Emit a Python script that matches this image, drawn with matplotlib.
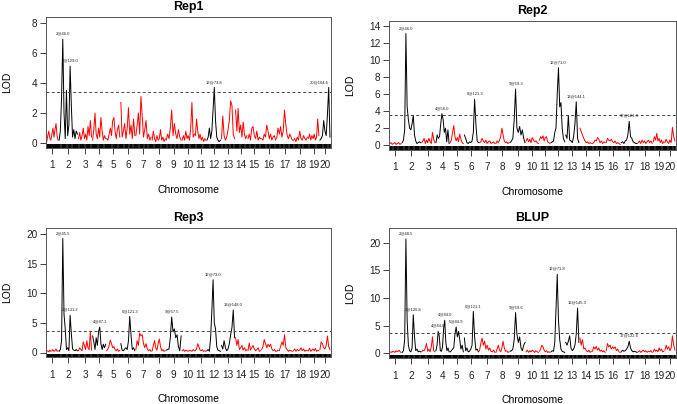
import matplotlib.pyplot as plt
import numpy as np

plt.rcParams['font.family'] = ['Liberation Sans', 'DejaVu Sans']

# chromosome map (cM)
chroms = [str(i) for i in range(1, 21)]
chrom_len = [130, 210, 150, 150, 150, 160, 175, 150, 170, 140,
             120, 155, 150, 130, 145, 160, 180, 160, 120, 115]
gap = 12

# LOD profiles, one list per chromosome
rep1 = [
    [0.1, 0.5, 0.8, 0.3, 0.2, 0.6, 1.0, 0.4, 0.9, 1.3, 0.5, 0.2],
    [0.2, 0.8, 3.0, 6.9, 2.0, 0.3, 3.5, 0.5, 1.2, 5.1, 2.5, 0.4, 0.9, 0.3, 0.8, 0.6],
    [0.3, 0.7, 0.2, 0.5, 1.0, 0.3, 0.6, 0.2, 1.1, 0.5, 1.5, 0.4],
    [0.2, 0.9, 2.0, 0.6, 0.3, 1.0, 0.4, 1.7, 0.8, 0.2, 0.5, 0.3],
    [0.3, 0.2, 0.6, 1.0, 0.5, 1.5, 1.7, 0.8, 0.3, 0.9, 1.2, 0.4],
    [2.7, 0.4, 0.8, 1.3, 0.3, 1.0, 2.35, 0.6, 1.2, 0.3, 1.6, 0.5],
    [0.5, 1.2, 2.0, 0.6, 3.1, 1.8, 0.4, 0.9, 1.5, 0.3, 0.6, 0.2, 0.4],
    [0.2, 0.8, 0.3, 0.1, 0.5, 0.2, 0.3, 0.9, 0.2, 0.4, 0.1, 0.3],
    [0.2, 0.6, 0.3, 1.0, 2.2, 0.5, 1.3, 0.6, 0.3, 0.9, 0.4, 0.2],
    [0.2, 0.5, 0.2, 0.8, 0.3, 0.5, 0.2, 1.0, 2.7, 0.4, 0.6],
    [0.5, 1.6, 0.8, 0.3, 0.6, 0.2, 0.4, 0.1, 0.3, 0.2],
    [0.2, 0.4, 1.0, 0.3, 0.8, 2.2, 3.7, 1.5, 0.4, 0.2, 0.1, 0.2],
    [0.3, 1.8, 0.5, 0.2, 0.4, 0.9, 1.5, 2.8, 2.5, 0.6, 0.3],
    [2.2, 0.8, 2.3, 0.7, 1.2, 0.4, 1.4, 0.6, 0.3, 0.5],
    [0.3, 0.6, 0.2, 1.0, 1.1, 0.5, 0.3, 0.8, 0.2, 0.4, 0.3],
    [0.3, 0.2, 0.6, 0.4, 1.2, 0.8, 0.3, 0.6, 0.2, 0.4, 0.5, 0.2],
    [0.3, 1.0, 0.6, 1.1, 0.4, 0.8, 2.2, 1.2, 0.5, 0.3, 0.6, 0.4, 0.2],
    [0.2, 0.3, 0.1, 0.4, 0.2, 0.8, 0.3, 0.2, 0.5, 0.3, 0.2, 0.4],
    [0.3, 0.6, 0.2, 0.5, 0.3, 0.6, 0.2, 0.4, 1.6, 0.5],
    [0.2, 0.3, 0.5, 1.5, 0.8, 0.5, 1.9, 3.7, 0.4],
]
rep2 = [
    [0.2, 0.3, 0.1, 0.2, 0.3, 0.1, 0.2, 0.3, 0.1, 0.2],
    [0.3, 0.6, 1.8, 13.1, 4.5, 3.0, 2.0, 1.8, 2.5, 3.5, 1.2, 0.5, 0.2, 0.3, 0.4, 0.3],
    [0.3, 0.5, 0.8, 0.2, 0.6, 0.3, 0.8, 0.4, 0.2, 1.5, 0.7, 0.3],
    [0.3, 1.2, 0.8, 1.0, 2.5, 3.7, 3.0, 1.5, 2.0, 0.4, 1.8, 0.2],
    [0.3, 0.6, 1.5, 2.3, 1.0, 0.5, 0.9, 0.4, 1.3, 0.7, 0.3, 0.2],
    [1.2, 0.8, 0.3, 0.2, 0.4, 0.3, 0.5, 1.5, 5.4, 2.5, 0.5, 0.3],
    [0.3, 0.4, 0.8, 0.5, 0.3, 0.6, 0.2, 0.4, 0.5, 0.2, 0.3, 0.4, 0.2],
    [0.2, 0.5, 0.3, 0.6, 1.0, 2.0, 1.2, 0.5, 0.3, 0.4, 0.2, 0.3],
    [0.3, 0.5, 0.8, 3.0, 6.6, 2.0, 1.5, 2.2, 1.2, 1.8, 0.8, 0.3],
    [0.5, 0.8, 0.4, 0.7, 0.3, 0.9, 0.6, 0.4, 0.5, 0.3, 0.2],
    [0.6, 1.0, 0.8, 1.1, 0.5, 0.9, 1.0, 0.4, 0.3, 0.2],
    [0.3, 0.4, 0.5, 1.5, 2.0, 6.0, 9.1, 4.5, 5.0, 2.0, 0.8, 0.4],
    [1.2, 0.8, 3.5, 0.6, 0.5, 0.3, 1.0, 2.5, 5.1, 0.8, 0.3],
    [2.0, 1.6, 1.2, 0.8, 0.5, 0.3, 0.4, 0.2, 0.3, 0.2],
    [0.2, 0.3, 0.6, 0.5, 0.9, 0.7, 0.3, 0.5, 0.2, 0.4, 0.3],
    [0.3, 0.8, 0.6, 0.5, 0.7, 0.4, 0.3, 0.5, 0.2, 0.3, 0.2, 0.1],
    [0.3, 0.4, 0.2, 0.5, 0.6, 1.2, 2.8, 1.0, 0.8, 0.4, 0.3, 0.2, 0.2],
    [0.3, 0.5, 0.2, 0.6, 0.3, 0.5, 0.2, 0.4, 0.6, 0.3, 0.5, 0.2],
    [0.4, 1.0, 0.6, 1.4, 0.5, 0.8, 0.3, 0.6, 0.2, 0.4],
    [0.3, 0.7, 0.4, 0.2, 0.6, 0.3, 2.1, 1.0, 0.5],
]
rep3 = [
    [0.2, 0.3, 0.1, 0.4, 0.2, 0.3, 0.5, 0.2, 0.3, 0.6, 0.2, 0.3],
    [0.2, 0.5, 2.0, 19.3, 6.5, 4.0, 0.5, 0.8, 0.3, 6.3, 3.2, 0.6, 0.4, 0.3, 0.5, 0.3],
    [0.3, 0.8, 0.5, 0.3, 1.8, 1.2, 0.5, 2.0, 0.8, 0.5, 3.6, 0.4],
    [2.8, 1.8, 0.5, 2.5, 1.2, 3.5, 4.3, 1.5, 0.5, 1.4, 0.8, 1.4],
    [0.3, 0.6, 1.2, 2.1, 1.5, 0.8, 1.0, 0.5, 0.3, 0.6, 0.2, 0.4],
    [1.5, 0.4, 0.3, 0.6, 0.8, 0.5, 2.0, 6.1, 3.0, 0.5, 0.8, 0.3],
    [0.5, 2.0, 1.2, 3.3, 2.8, 3.0, 1.5, 0.8, 1.5, 0.6, 0.3, 0.5, 0.2],
    [0.3, 1.2, 2.0, 0.8, 0.4, 1.5, 2.3, 1.0, 0.3, 0.5, 0.2, 0.3],
    [0.4, 0.5, 0.6, 2.5, 6.0, 3.5, 4.0, 2.5, 3.0, 1.0, 0.3, 2.8],
    [0.3, 0.5, 0.2, 0.4, 0.3, 0.2, 0.4, 0.3, 0.2, 0.5, 0.3],
    [0.3, 0.6, 1.5, 1.0, 0.4, 0.3, 0.5, 0.2, 0.3, 0.2],
    [0.3, 0.5, 0.2, 2.5, 7.0, 12.3, 5.0, 4.0, 1.0, 0.4, 0.3, 0.2],
    [1.2, 0.6, 2.0, 0.8, 0.3, 0.6, 1.5, 3.0, 4.2, 7.2, 2.5],
    [2.5, 1.2, 2.2, 0.5, 0.8, 1.2, 0.4, 0.8, 0.3, 0.5],
    [0.3, 1.6, 0.4, 0.8, 1.2, 0.6, 0.3, 0.5, 0.8, 0.2, 0.3],
    [0.5, 1.0, 2.2, 1.5, 0.8, 1.4, 1.0, 1.4, 0.6, 0.3, 0.5, 0.2],
    [0.2, 0.4, 0.3, 1.0, 1.8, 1.2, 3.0, 0.8, 0.5, 0.2, 0.4, 0.3, 0.2],
    [0.3, 0.6, 0.2, 0.5, 0.3, 0.4, 0.8, 0.3, 0.6, 0.2, 0.4, 0.3],
    [0.3, 0.7, 0.2, 0.4, 0.6, 0.3, 0.7, 0.2, 0.4, 0.3],
    [0.5, 1.8, 1.5, 0.8, 0.6, 1.2, 2.8, 1.0, 0.5],
]
blup = [
    [0.2, 0.3, 0.2, 0.4, 0.3, 0.2, 0.5, 0.3, 0.4, 0.6, 0.3, 0.2],
    [0.2, 0.5, 2.5, 20.7, 6.0, 1.5, 0.5, 0.3, 1.0, 7.0, 3.0, 0.5, 0.8, 0.3, 0.4, 0.3],
    [0.3, 0.6, 0.5, 1.0, 1.8, 0.4, 0.8, 0.3, 1.2, 3.0, 0.5, 0.3],
    [0.5, 1.5, 4.0, 3.2, 0.5, 0.4, 1.2, 4.5, 6.0, 2.0, 0.5, 1.0, 0.3],
    [0.3, 0.5, 0.8, 1.0, 3.5, 4.8, 3.0, 4.0, 2.5, 0.8, 1.5, 0.3],
    [2.8, 0.5, 1.0, 0.3, 0.4, 0.8, 1.5, 7.6, 3.0, 0.6, 0.8, 0.3],
    [0.5, 1.8, 2.8, 1.5, 2.2, 0.8, 1.5, 0.6, 1.0, 0.4, 0.3, 0.6, 0.2],
    [0.2, 0.8, 1.5, 0.6, 0.3, 1.0, 2.2, 1.0, 0.4, 0.5, 0.2, 0.3],
    [0.4, 0.5, 0.8, 2.5, 7.4, 3.5, 2.0, 3.0, 1.0, 0.5, 1.5, 2.0],
    [0.3, 0.6, 0.2, 0.5, 0.3, 0.6, 0.4, 0.2, 0.5, 0.3, 0.2],
    [0.4, 0.8, 1.5, 1.2, 0.6, 0.3, 0.5, 0.2, 0.3, 0.2],
    [0.3, 0.5, 0.4, 2.0, 8.0, 14.3, 6.0, 2.5, 0.8, 0.4, 0.3, 0.2],
    [2.0, 1.5, 2.2, 3.2, 1.0, 0.5, 0.8, 1.5, 3.5, 8.2, 2.0],
    [2.8, 1.5, 2.5, 0.8, 1.0, 0.5, 0.3, 0.6, 0.2, 0.4],
    [0.4, 1.2, 0.8, 1.3, 0.6, 1.0, 0.4, 0.6, 0.3, 0.5, 0.2],
    [0.5, 1.8, 1.2, 1.5, 0.8, 1.2, 0.9, 1.2, 0.5, 0.8, 0.3, 0.2],
    [0.3, 0.6, 0.4, 0.5, 0.8, 1.2, 2.2, 1.0, 0.5, 0.3, 0.4, 0.3, 0.2],
    [0.3, 0.5, 0.2, 0.4, 0.6, 0.3, 0.5, 0.2, 0.4, 0.3, 0.5, 0.2],
    [0.3, 0.8, 0.4, 0.6, 0.3, 1.0, 0.5, 0.8, 0.3, 0.4],
    [0.6, 1.5, 0.8, 1.2, 0.5, 1.0, 3.2, 1.5, 0.6],
]

# peak labels: (chromosome, index in that chromosome's list, text)
rep1_peaks = [(2, 3, "2@46.0"), (2, 9, "2@129.0"), (12, 6, "12@73.8"), (20, 7, "20@104.6")]
rep2_peaks = [(2, 3, "2@46.0"), (4, 5, "4@56.0"), (6, 8, "6@121.3"), (9, 4, "9@59.3"),
              (12, 6, "12@71.0"), (13, 8, "13@144.1"), (17, 6, "17@121.3")]
rep3_peaks = [(2, 3, "2@45.5"), (2, 9, "2@131.2"), (4, 6, "4@87.1"), (6, 7, "6@121.3"),
              (9, 4, "9@57.5"), (12, 5, "12@73.0"), (13, 9, "13@148.0")]
blup_peaks = [(2, 3, "2@48.5"), (2, 9, "2@126.8"), (4, 2, "4@44.0"), (4, 8, "4@84.0"),
              (5, 5, "5@84.9"), (6, 7, "6@121.1"), (9, 4, "9@59.6"), (12, 5, "12@71.8"),
              (13, 9, "13@145.3"), (17, 6, "17@122.6")]

titles = ["Rep1", "Rep2", "Rep3", "BLUP"]
thresholds = [3.4, 3.6, 3.65, 3.65]
lod_max = [8.05, 14.05, 20.3, 21.75]
ytick_step = [2, 2, 5, 5]

starts = np.cumsum([0] + [L + gap for L in chrom_len[:-1]])
total = starts[-1] + chrom_len[-1]
centers = starts + np.array(chrom_len) / 2

W, H = 677, 404
fig = plt.figure(figsize=(W / 100, H / 100), dpi=100)
# axes boxes in pixels: left, right, top, bottom
boxes = [(45.7, 331, 17, 148), (388.7, 676, 20.7, 150),
         (45.7, 331, 227.7, 357.3), (388.7, 676, 228.3, 358.3)]


def draw_panel(ax, lod, peaks, thr, M, step, title):
    sig = set(p[0] for p in peaks)
    for i in range(20):
        y = np.array(lod[i])
        x = starts[i] + np.linspace(0, chrom_len[i], len(y))
        col = 'black' if (i + 1) in sig else 'red'
        ax.plot(x, y, color=col, lw=0.7)
        # marker rug
        ax.vlines(x, 0, 0.028, transform=ax.get_xaxis_transform(), color='black', lw=1.2)
    for c, k, txt in peaks:
        x = starts[c - 1] + chrom_len[c - 1] * k / (len(lod[c - 1]) - 1)
        y = lod[c - 1][k]
        ha = 'right' if c == 20 else 'center'
        ax.annotate(txt, (x, y), xytext=(0, 2.5), textcoords='offset points',
                    ha=ha, va='bottom', fontsize=3, color='#222222')
    ax.axhline(thr, color='#444444', lw=0.7, ls=(0, (3, 2.5)))
    ax.set_xlim(-12, total + 12)
    ax.set_ylim(-0.04 * M, 1.04 * M)
    ax.set_yticks(np.arange(0, M + 0.01, step))
    ax.set_xticks(centers)
    ax.set_xticklabels(chroms)
    ax.tick_params(axis='x', length=4, width=0.6, pad=5, labelsize=7.2, colors='#222222')
    ax.tick_params(axis='y', length=4, width=0.6, pad=2, labelsize=7.2, colors='#222222')
    for s in ax.spines.values():
        s.set_linewidth(0.7)
        s.set_color('#555555')
    ax.set_title(title, fontsize=9, fontweight='bold', pad=5)
    ax.set_ylabel("LOD", fontsize=7.5)
    ax.yaxis.set_label_coords(-0.117, 0.5)
    ax.set_xlabel("Chromosome", fontsize=7.5)
    ax.xaxis.set_label_coords(0.5, -0.285)


all_lod = [rep1, rep2, rep3, blup]
all_peaks = [rep1_peaks, rep2_peaks, rep3_peaks, blup_peaks]
for j in range(4):
    l, r, t, b = boxes[j]
    ax = fig.add_axes([l / W, (H - b) / H, (r - l) / W, (b - t) / H])
    draw_panel(ax, all_lod[j], all_peaks[j], thresholds[j], lod_max[j], ytick_step[j], titles[j])

plt.savefig("out.png", dpi=100)
